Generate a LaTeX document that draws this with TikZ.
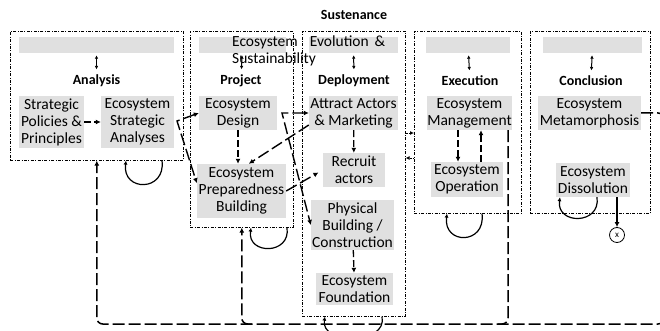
\documentclass[tikz,border=0pt]{standalone}
\usepackage{fontspec}
\setmainfont{Carlito}
\usepackage{xcolor}
\usetikzlibrary{arrows.meta}
\definecolor{step-gray}{RGB}{224,224,224}
\tikzset{
    phase-frame/.style = {draw, line width=0.6pt, dash pattern=on 3pt off 1.5pt on 0.8pt off 1.5pt, rectangle, anchor=north west, inner sep=0pt},
    phase-bar/.style = {fill=step-gray, rectangle, minimum height=16pt, inner sep=0pt},
    phase-title/.style = {font=\fontsize{14}{16}\selectfont\bfseries},
    step-box/.style = {fill=step-gray, rectangle, align=center, inner sep=0pt, font=\fontsize{15.5}{17}\selectfont},
    both-tips/.style = {{Latex[length=3.5pt,width=3.5pt]}-{Latex[length=3.5pt,width=3.5pt]}, line width=1pt, shorten <=2pt, shorten >=2pt},
    step-arrow/.style = {-{Latex[length=5pt,width=5pt]}, line width=1.3pt, dash pattern=on 7pt off 3pt},
    long-arrow/.style = {-{Latex[length=5pt,width=5pt]}, line width=1.4pt, dash pattern=on 12pt off 4pt},
    fork-arrow/.style = {long-arrow, {Latex[length=5pt,width=5pt]}-{Latex[length=5pt,width=5pt]}},
    return-line/.style = {long-arrow, line width=1.5pt, rounded corners=6pt},
    frame-link/.style = {-{Latex[length=4pt,width=4pt]}, line width=0.8pt, densely dotted},
    loop-arrow/.style = {-{Latex[length=4pt,width=4pt]}, line width=1.2pt},
    solid-arrow/.style = {-{Latex[length=5pt,width=5pt]}, line width=1.3pt},
}

\begin{document}
\begin{tikzpicture}[x=1pt, y=-1pt]
\useasboundingbox (0,0) rectangle (660,331);

% phase frames
\node [phase-frame, minimum width=173pt, minimum height=129pt] (analysis) at (10,31) {};
\node [phase-frame, minimum width=103pt, minimum height=196pt] (project) at (190,31) {};
\node [phase-frame, minimum width=103pt, minimum height=285pt] (deployment) at (302,31) {};
\node [phase-frame, minimum width=107pt, minimum height=182pt] (execution) at (414,31) {};
\node [phase-frame, minimum width=120pt, minimum height=182pt] (conclusion) at (530,31) {};

\node [phase-title] (sustenance) at (354,15) {Sustenance};

% bars and titles
\node [phase-bar, minimum width=155pt] (analysis-bar) at (96.5,45) {};
\node [phase-bar, minimum width=87pt] (project-bar) at (242.5,45) {};
\node [phase-bar, minimum width=89pt] (deployment-bar) at (353.5,45) {};
\node [phase-bar, minimum width=84pt] (execution-bar) at (468,45) {};
\node [phase-bar, minimum width=99pt] (conclusion-bar) at (592.5,45) {};

\node [phase-title] (analysis-title) at (96.5,81) {Analysis};
\node [phase-title] (project-title) at (241,81) {Project};
\node [phase-title] (deployment-title) at (354,81) {Deployment};
\node [phase-title] (execution-title) at (470,81) {Execution};
\node [phase-title] (conclusion-title) at (591,81) {Conclusion};

\foreach \p in {analysis, project, deployment, execution, conclusion}
    \draw [both-tips] (\p-bar) -- (\p-title);

\node [step-box, fill=none, align=left, anchor=north west] (evolution) at (232,36) {Ecosystem\hspace{12pt}Evolution\hspace{6pt}\&\\Sustainability};

% steps
\node [step-box, minimum width=65pt, minimum height=52pt] (policies) at (51.5,122) {Strategic\\Policies \&\\Principles};
\node [step-box, minimum width=73pt, minimum height=52pt] (analyses) at (137.5,122) {Ecosystem\\Strategic\\Analyses};
\node [step-box, minimum width=78pt, minimum height=34pt] (design) at (238,113) {Ecosystem\\Design};
\node [step-box, minimum width=89pt, minimum height=54pt] (preparedness) at (241.5,191) {Ecosystem\\Preparedness\\Building};
\node [step-box, minimum width=89pt, minimum height=34pt] (attract) at (353.5,113) {Attract Actors\\\& Marketing};
\node [step-box, minimum width=62pt, minimum height=34pt] (recruit) at (354,170) {Recruit\\actors};
\node [step-box, minimum width=83pt, minimum height=50pt] (physical) at (352.5,225) {Physical\\Building /\\Construction};
\node [step-box, minimum width=77pt, minimum height=32pt] (foundation) at (354.5,289) {Ecosystem\\Foundation};
\node [step-box, minimum width=85pt, minimum height=34pt] (management) at (469.5,113) {Ecosystem\\Management};
\node [step-box, minimum width=72pt, minimum height=35pt] (operation) at (467,179.5) {Ecosystem\\Operation};
\node [step-box, minimum width=103pt, minimum height=34pt] (metamorphosis) at (589.5,113) {Ecosystem\\Metamorphosis};
\node [step-box, minimum width=74pt, minimum height=34pt] (dissolution) at (593,180) {Ecosystem\\Dissolution};
\node [draw, circle, line width=0.8pt, inner sep=0pt, minimum size=15pt, font=\fontsize{9}{9}\selectfont] (stop) at (617,235) {x};

\coordinate (fork-a) at (177,121);
\coordinate (fork-b) at (282,113);
\coordinate (link-out) at (0,133);
\coordinate (link-back) at (0,158);
\coordinate (base) at (0,324);

% flows
\draw [step-arrow] (policies) -- (analyses);
\draw [fork-arrow] (design.west) -- (fork-a) -- (preparedness.170);
\draw [step-arrow] (design.south) -- (design.south |- preparedness.north);
\draw [fork-arrow] (attract.west) -- (fork-b) -- (physical.west);
\draw [long-arrow] (attract.195) -- (preparedness.75);
\draw [long-arrow, shorten >=5pt] (preparedness.east) -- (recruit.west);
\draw [step-arrow] (attract) -- (recruit);
\draw [step-arrow] (physical) -- (foundation);
\draw [frame-link] (deployment.east |- link-out) -- (execution.west |- link-out);
\draw [frame-link] (execution.west |- link-back) -- (deployment.east |- link-back);
\draw [step-arrow] ([xshift=-11.5pt]management.south) -- ([xshift=-9pt]operation.north);
\draw [step-arrow] ([xshift=14pt]operation.north) -- ([xshift=11.5pt]management.south);
\draw [solid-arrow] (dissolution.south -| stop) -- (stop);

% way back
\draw [return-line] (metamorphosis.east) -| (664,324) -- (analysis.south |- base) -- (analysis.south);
\draw [return-line] ([xshift=10pt]project.south |- base) -| (project.south);
\draw [return-line, -] ([xshift=38.5pt]management.south) |- ([xshift=28pt]management.south |- base);

% self loops
\draw [loop-arrow] (analysis.south -| 162,0) .. controls (166,192) and (122,192) .. (analysis.south -| 126,0);
\draw [loop-arrow] (project.south -| 287,0) .. controls (291,255) and (247,255) .. (project.south -| 251,0);
\draw [loop-arrow] (deployment.south -| 382,0) .. controls (388,345) and (320,345) .. (deployment.south -| 325,0);
\draw [loop-arrow] (execution.south -| 482,0) .. controls (486,245) and (443,245) .. (execution.south -| 447,0);
\draw [loop-arrow] (dissolution.south -| 597,0) .. controls (601,225) and (556,225) .. (dissolution.south -| 560,0);
\end{tikzpicture}
\end{document}
